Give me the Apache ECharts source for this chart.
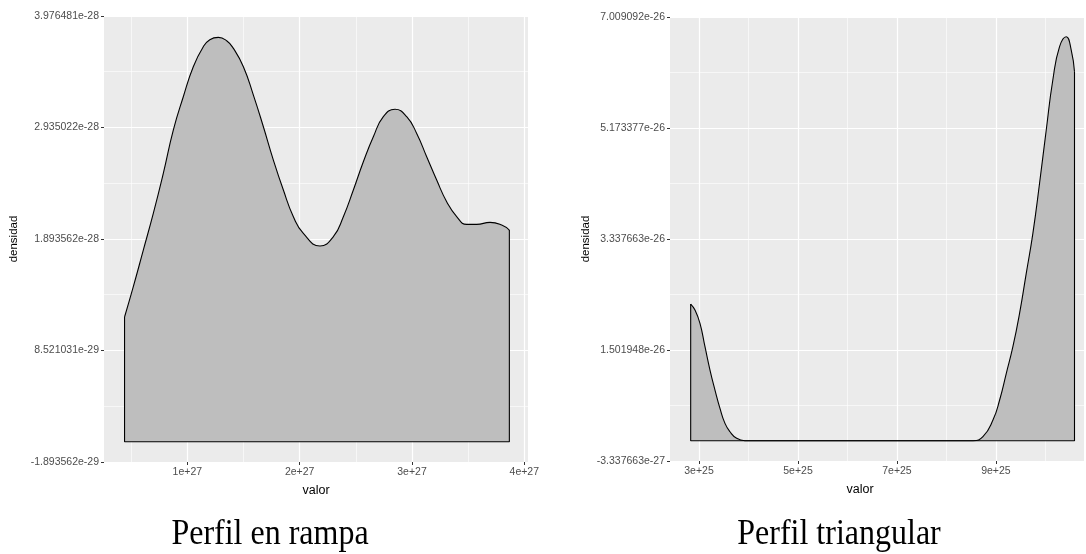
<!DOCTYPE html>
<html><head><meta charset="utf-8">
<script src="https://cdn.jsdelivr.net/npm/echarts@6/dist/echarts.min.js"></script>
<style>html,body{margin:0;padding:0;background:#fff}#c{width:1086px;height:554px}</style>
</head><body><div id="c"></div>
<script>
// ---- Perfil en rampa ----
const rampaX = [0.441e27,0.519e27,0.608e27,0.697e27,0.786e27,0.875e27,0.964e27,1.053e27,1.142e27,1.200e27,1.276e27,1.350e27,1.410e27,1.499e27,1.588e27,1.677e27,1.766e27,1.855e27,1.944e27,2.033e27,2.181e27,2.300e27,2.389e27,2.478e27,2.567e27,2.656e27,2.745e27,2.849e27,2.953e27,3.042e27,3.131e27,3.220e27,3.309e27,3.398e27,3.487e27,3.576e27,3.695e27,3.799e27,3.867e27];
const rampaY = [1.165e-28,1.448e-28,1.790e-28,2.133e-28,2.507e-28,2.911e-28,3.222e-28,3.503e-28,3.689e-28,3.755e-28,3.777e-28,3.745e-28,3.674e-28,3.503e-28,3.238e-28,2.942e-28,2.631e-28,2.351e-28,2.102e-28,1.946e-28,1.828e-28,1.915e-28,2.102e-28,2.351e-28,2.615e-28,2.849e-28,3.036e-28,3.105e-28,3.036e-28,2.880e-28,2.662e-28,2.444e-28,2.242e-28,2.102e-28,2.030e-28,2.030e-28,2.049e-28,2.024e-28,1.977e-28];
const rampaXRange = [0.258e27, 4.033e27];
const rampaXTicks = [1e27, 2e27, 3e27, 4e27];
const rampaXLabels = ['1e+27','2e+27','3e+27','4e+27'];
const rampaXMinor = [0.5e27, 1.5e27, 2.5e27, 3.5e27];
const rampaYTicks = [-1.893562e-29, 8.521031e-29, 1.893562e-28, 2.935022e-28, 3.976481e-28];
const rampaYLabels = ['-1.893562e-29','8.521031e-29','1.893562e-28','2.935022e-28','3.976481e-28'];
const rampaYMinor = [3.313735e-29, 1.372833e-28, 2.414292e-28, 3.455752e-28];

// ---- Perfil triangular ----
const triX = [2.832e25,2.919e25,3.020e25,3.121e25,3.222e25,3.323e25,3.424e25,3.525e25,3.626e25,3.761e25,3.928e25,4.5e25,5.5e25,6.5e25,7.5e25,8.3e25,8.536e25,8.738e25,8.940e25,9.075e25,9.210e25,9.343e25,9.478e25,9.613e25,9.747e25,9.882e25,10.017e25,10.150e25,10.286e25,10.421e25,10.522e25,10.588e25];
const triY = [2.262e-26,2.163e-26,1.943e-26,1.556e-26,1.171e-26,0.840e-26,0.537e-26,0.289e-26,0.150e-26,0.041e-26,0.002e-26,0,0,0,0,0,0.002e-26,0.068e-26,0.344e-26,0.675e-26,1.116e-26,1.556e-26,2.109e-26,2.770e-26,3.432e-26,4.259e-26,5.140e-26,5.967e-26,6.518e-26,6.683e-26,6.463e-26,6.104e-26];
const triXRange = [2.414e25, 10.78e25];
const triXTicks = [3e25, 5e25, 7e25, 9e25];
const triXLabels = ['3e+25','5e+25','7e+25','9e+25'];
const triXMinor = [4e25, 6e25, 8e25, 10e25];
const triYTicks = [-3.337663e-27, 1.501948e-26, 3.337663e-26, 5.173377e-26, 7.009092e-26];
const triYLabels = ['-3.337663e-27','1.501948e-26','3.337663e-26','5.173377e-26','7.009092e-26'];
const triYMinor = [5.840909e-27, 2.419806e-26, 4.25552e-26, 6.091235e-26];

const captions = ['Perfil en rampa', 'Perfil triangular'];
const xName = 'valor', yName = 'densidad';

function labelFmt(ticks, labels) {
  return function (v) {
    for (let i = 0; i < ticks.length; i++) {
      if (Math.abs(ticks[i] - v) <= Math.abs(ticks[i]) * 1e-6) return labels[i];
    }
    return '';
  };
}
const labelStyle = {color: '#4D4D4D', fontSize: 10.5, fontFamily: 'Liberation Sans'};
function majorAxis(dim, gi, range, ticks, labels, name, gap, namePad) {
  const a = {
    type: 'value', gridIndex: gi, min: range[0], max: range[1],
    position: dim === 'x' ? 'bottom' : 'left',
    axisLine: {show: false, onZero: false},
    axisTick: {show: true, length: 3, customValues: ticks, lineStyle: {color: '#333333', width: 1}},
    axisLabel: Object.assign({customValues: ticks, formatter: labelFmt(ticks, labels), margin: 5, showMinLabel: true, showMaxLabel: true, hideOverlap: false}, labelStyle),
    splitLine: {show: true, lineStyle: {color: '#FFFFFF', width: 1.2}},
    name: name, nameLocation: 'middle', nameGap: gap,
    nameTextStyle: {color: '#000', fontSize: dim === 'x' ? 12.5 : 11.5, fontFamily: 'Liberation Sans', padding: namePad || 0}
  };
  if (dim === 'y') a.nameRotate = 90;
  return a;
}
function minorAxis(dim, gi, range, minor) {
  return {
    type: 'value', gridIndex: gi, min: range[0], max: range[1],
    position: dim === 'x' ? 'bottom' : 'left',
    axisLine: {show: false, onZero: false},
    axisTick: {show: false, customValues: minor},
    axisLabel: {show: false},
    splitLine: {show: true, lineStyle: {color: '#FFFFFF', width: 0.6}}
  };
}
function zip(xs, ys) { return xs.map((x, i) => [x, ys[i]]); }
function panelSeries(xs, ys, xi, yi) {
  const n = xs.length - 1;
  return [
    {type: 'line', xAxisIndex: xi, yAxisIndex: yi, data: zip(xs, ys), smooth: 0.5,
     symbol: 'none', silent: true, z: 3,
     lineStyle: {color: '#000', width: 1.1}, areaStyle: {color: '#BEBEBE', opacity: 1, origin: 0}},
    {type: 'line', xAxisIndex: xi, yAxisIndex: yi, smooth: false, symbol: 'none', silent: true, z: 4,
     data: [[xs[0], ys[0]], [xs[0], 0], [xs[n], 0], [xs[n], ys[n]]],
     lineStyle: {color: '#000', width: 1.1}}
  ];
}
const captionStyle = {fontFamily: 'Liberation Serif', fontSize: 32, fill: '#000', align: 'center', verticalAlign: 'bottom'};

const chart = echarts.init(document.getElementById('c'), null, {renderer: 'canvas'});
const rY = [rampaYTicks[0], rampaYTicks[rampaYTicks.length - 1]];
const tY = [triYTicks[0], triYTicks[triYTicks.length - 1]];
chart.setOption({
  animation: false,
  backgroundColor: '#FFFFFF',
  graphic: [
    {type: 'text', x: 270, y: 553, scaleY: 1.15, silent: true,
     style: Object.assign({text: captions[0]}, captionStyle)},
    {type: 'text', x: 839, y: 553, scaleY: 1.15, silent: true,
     style: Object.assign({text: captions[1]}, captionStyle)}
  ],
  grid: [
    {left: 104, top: 16, width: 424, height: 446, show: true, backgroundColor: '#EBEBEB', borderWidth: 0},
    {left: 670, top: 17, width: 414, height: 444, show: true, backgroundColor: '#EBEBEB', borderWidth: 0}
  ],
  xAxis: [
    majorAxis('x', 0, rampaXRange, rampaXTicks, rampaXLabels, xName, 22),
    minorAxis('x', 0, rampaXRange, rampaXMinor),
    majorAxis('x', 1, triXRange, triXTicks, triXLabels, xName, 22, [0, 34, 0, 0]),
    minorAxis('x', 1, triXRange, triXMinor)
  ],
  yAxis: [
    majorAxis('y', 0, rY, rampaYTicks, rampaYLabels, yName, 84),
    minorAxis('y', 0, rY, rampaYMinor),
    majorAxis('y', 1, tY, triYTicks, triYLabels, yName, 78),
    minorAxis('y', 1, tY, triYMinor)
  ],
  series: [].concat(
    panelSeries(rampaX, rampaY, 0, 0),
    panelSeries(triX, triY, 2, 2)
  )
});
</script></body></html>
